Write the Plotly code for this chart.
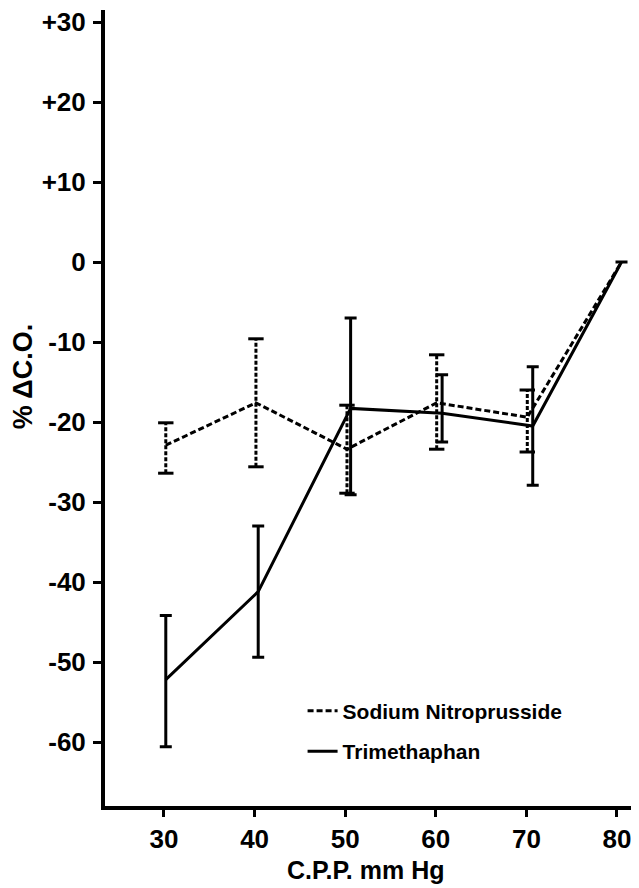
import plotly.graph_objects as go

# C.P.P. (mm Hg) positions as drawn, and % change in cardiac output
snp_x = [30.2, 40.15, 50.2, 60.1, 70.1, 80.5]
snp_mean = [-22.9, -17.6, -23.4, -17.6, -19.4, 0]
snp_hi = [-20.1, -9.6, -17.9, -11.6, -16.0, None]
snp_lo = [-26.4, -25.6, -28.9, -23.4, -23.75, None]

tri_x = [30.2, 40.4, 50.6, 60.7, 70.7, 80.5]
tri_mean = [-52.2, -41.2, -18.3, -18.9, -20.5, 0]
tri_hi = [-44.2, -33.0, -7.0, -14.1, -13.1, None]
tri_lo = [-60.6, -49.4, -29.1, -22.5, -27.9, None]

x_ticks = [30, 40, 50, 60, 70, 80]
y_ticks = [30, 20, 10, 0, -10, -20, -30, -40, -50, -60]
y_tick_text = ["+30", "+20", "+10", "0", "-10", "-20", "-30", "-40", "-50", "-60"]


def plus(m, h):
    return [float("nan") if v is None else v - mm for mm, v in zip(m, h)]


def minus(m, l):
    return [float("nan") if v is None else mm - v for mm, v in zip(m, l)]


FONT = "Liberation Sans, Arial, sans-serif"

fig = go.Figure()

# Sodium nitroprusside: dashed range bars with solid caps
seg_x, seg_y, cap_x, cap_y = [], [], [], []
for xv, h, l in zip(snp_x, snp_hi, snp_lo):
    if h is None:
        continue
    seg_x += [xv, xv, None]
    seg_y += [l, h, None]
    cap_x += [xv, xv]
    cap_y += [l, h]
fig.add_trace(go.Scatter(x=seg_x, y=seg_y, mode="lines", showlegend=False,
                         line=dict(color="black", width=3, dash="4px,2px"),
                         hoverinfo="skip"))
fig.add_trace(go.Scatter(x=cap_x, y=cap_y, mode="markers", showlegend=False,
                         marker=dict(symbol="line-ew", size=11, color="black",
                                     line=dict(color="black", width=3)),
                         hoverinfo="skip"))

fig.add_trace(go.Scatter(
    x=snp_x, y=snp_mean, mode="lines", name="Sodium Nitroprusside",
    line=dict(color="black", width=3, dash="6px,3px"),
    legendgroup="a",
))
fig.add_trace(go.Scatter(
    x=tri_x, y=tri_mean, mode="lines", name="Trimethaphan",
    line=dict(color="black", width=3),
    error_y=dict(type="data", symmetric=False, array=plus(tri_mean, tri_hi),
                 arrayminus=minus(tri_mean, tri_lo), color="black", thickness=3, width=6),
    legendgroup="b",
))

fig.update_layout(
    width=631, height=880,
    margin=dict(l=97, r=0, t=2, b=82),
    paper_bgcolor="white", plot_bgcolor="white",
    font=dict(family=FONT, color="black", size=20),
    showlegend=True,
    legend=dict(x=0.37, y=0.094, xanchor="left", yanchor="middle",
                font=dict(family=FONT, size=21, color="black", weight="bold"),
                traceorder="grouped", tracegroupgap=10,
                bgcolor="rgba(0,0,0,0)", itemwidth=30),
    xaxis=dict(range=[23.49, 82.43], tickvals=x_ticks, ticktext=[str(v) for v in x_ticks],
               showline=True, linecolor="black", linewidth=4, ticks="outside",
               ticklen=7, tickwidth=3, tickcolor="black", showgrid=False, zeroline=False,
               ticklabeloverflow="allow",
               tickfont=dict(family=FONT, size=26, weight="bold")),
    yaxis=dict(range=[-68, 31.5], tickvals=y_ticks, ticktext=y_tick_text,
               showline=True, linecolor="black", linewidth=4, ticks="outside",
               ticklen=8, tickwidth=3, tickcolor="black", showgrid=False, zeroline=False,
               ticklabelstandoff=2, ticklabeloverflow="allow",
               tickfont=dict(family=FONT, size=26, weight="bold")),
    annotations=[
        dict(text="C.P.P. mm Hg", xref="paper", yref="paper", x=0.487, y=-0.08,
             xanchor="center", yanchor="middle", showarrow=False,
             font=dict(family=FONT, size=25, weight="bold")),
        dict(text="% \u0394C.O.", xref="paper", yref="paper", x=-0.1536, y=0.54,
             xanchor="center", yanchor="middle", showarrow=False, textangle=-90,
             font=dict(family=FONT, size=27, weight="bold")),
    ],
)

fig.write_html("out.html")
